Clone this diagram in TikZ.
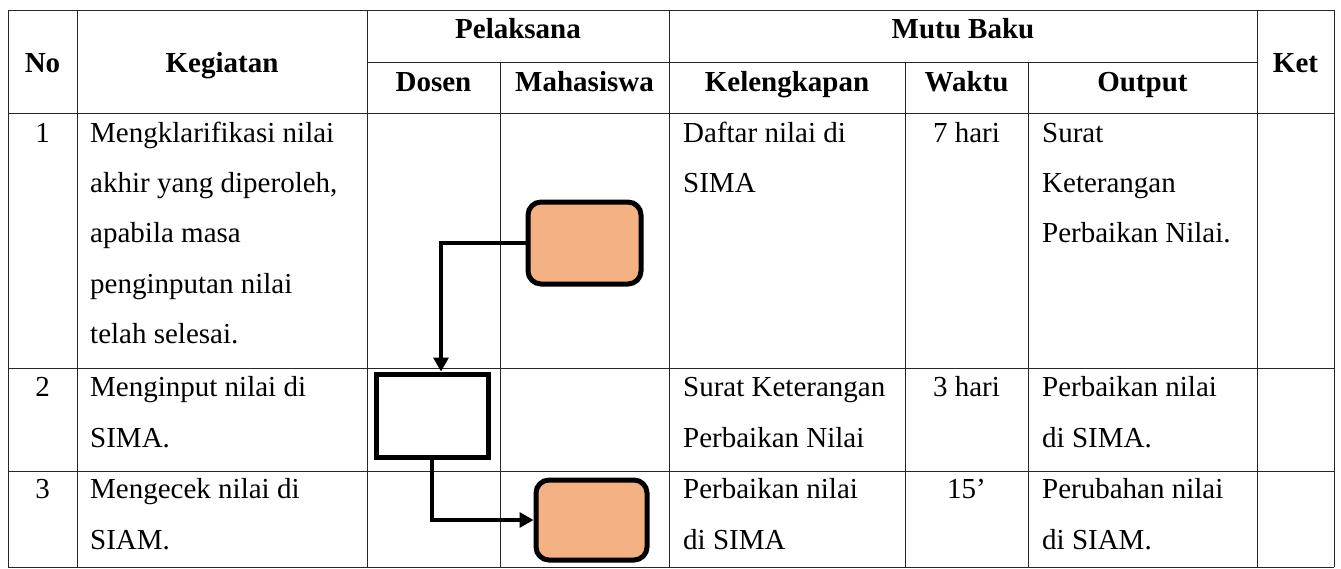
\documentclass[tikz,border=0pt]{standalone}
\usepackage{fontspec}
\setmainfont{Liberation Serif}
\usetikzlibrary{arrows.meta}
\definecolor{boxorange}{HTML}{F4B183}
\begin{document}
\begin{tikzpicture}[x=1pt,y=-1pt,
  grid/.style={line width=1pt,black!85},
  hd/.style={font=\fontsize{29}{35}\selectfont\bfseries,inner sep=0pt,anchor=base},
  tx/.style={font=\fontsize{29}{35}\selectfont,inner sep=0pt,anchor=base west},
  tc/.style={font=\fontsize{29}{35}\selectfont,inner sep=0pt,anchor=base},
  mbox/.style={draw=black,line width=5pt,fill=boxorange,rounded corners=13pt,inner sep=0pt},
  dbox/.style={draw=black,line width=5pt,fill=white,inner sep=0pt},
  conn/.style={line width=3.3pt,-{Triangle[length=14pt,width=15pt]}}]
\useasboundingbox (0,0) rectangle (1341,568);
\fill[white] (0,0) rectangle (1341,568);
% grid
\draw[grid] (8,10) -- (1334,10);
\draw[grid] (367,62) -- (1257,62);
\draw[grid] (8,113) -- (1334,113);
\draw[grid] (8,368) -- (1334,368);
\draw[grid] (8,471) -- (1334,471);
\draw[grid] (8,567) -- (1334,567);
\foreach \xx in {8,77,367,669,1257,1334} \draw[grid] (\xx,10) -- (\xx,567);
\foreach \xx in {500,905,1028} \draw[grid] (\xx,62) -- (\xx,567);
% headers
\node[hd] (hNo) at (42.5,72) {No};
\node[hd] (hKeg) at (222,72) {Kegiatan};
\node[hd] (hPel) at (518,38) {Pelaksana};
\node[hd] (hMutu) at (963,38) {Mutu Baku};
\node[hd] (hKet) at (1295.5,72) {Ket};
\node[hd] (hDos) at (433.5,91) {Dosen};
\node[hd] (hMhs) at (584.5,91) {Mahasiswa};
\node[hd] (hKel) at (787,91) {Kelengkapan};
\node[hd] (hWak) at (966.5,91) {Waktu};
\node[hd] (hOut) at (1142.5,91) {Output};
% row 1
\node[tc] (n1) at (42.5,142) {1};
\node[tx] (k1a) at (90,142) {Mengklarifikasi nilai};
\node[tx] (k1b) at (90,192) {akhir yang diperoleh,};
\node[tx] (k1c) at (90,242) {apabila masa};
\node[tx] (k1d) at (90,293) {penginputan nilai};
\node[tx] (k1e) at (90,343) {telah selesai.};
\node[tx] (l1a) at (683,142) {Daftar nilai di};
\node[tx] (l1b) at (683,192) {SIMA};
\node[tc] (w1) at (966.5,142) {7 hari};
\node[tx] (o1a) at (1042,142) {Surat};
\node[tx] (o1b) at (1042,192) {Keterangan};
\node[tx] (o1c) at (1042,242) {Perbaikan Nilai.};
% row 2
\node[tc] (n2) at (42.5,396) {2};
\node[tx] (k2a) at (90,396) {Menginput nilai di};
\node[tx] (k2b) at (90,447) {SIMA.};
\node[tx] (l2a) at (683,396) {Surat Keterangan};
\node[tx] (l2b) at (683,447) {Perbaikan Nilai};
\node[tc] (w2) at (966.5,396) {3 hari};
\node[tx] (o2a) at (1042,396) {Perbaikan nilai};
\node[tx] (o2b) at (1042,447) {di SIMA.};
% row 3
\node[tc] (n3) at (42.5,498) {3};
\node[tx] (k3a) at (90,498) {Mengecek nilai di};
\node[tx] (k3b) at (90,549) {SIAM.};
\node[tx] (l3a) at (683,498) {Perbaikan nilai};
\node[tx] (l3b) at (683,549) {di SIMA};
\node[tc] (w3) at (966.5,498) {15’};
\node[tx] (o3a) at (1042,498) {Perubahan nilai};
\node[tx] (o3b) at (1042,549) {di SIAM.};
% flow shapes
\node[mbox,minimum width=113pt,minimum height=82pt] (m1) at (584.5,243) {};
\node[dbox,minimum width=112pt,minimum height=83pt] (d2) at (432,415.5) {};
\node[mbox,minimum width=111pt,minimum height=80pt] (m3) at (591.5,520) {};
\draw[conn] (m1.west) -| ([xshift=9pt]d2.north);
\draw[conn] (d2.south) |- (m3.west);
\end{tikzpicture}
\end{document}
